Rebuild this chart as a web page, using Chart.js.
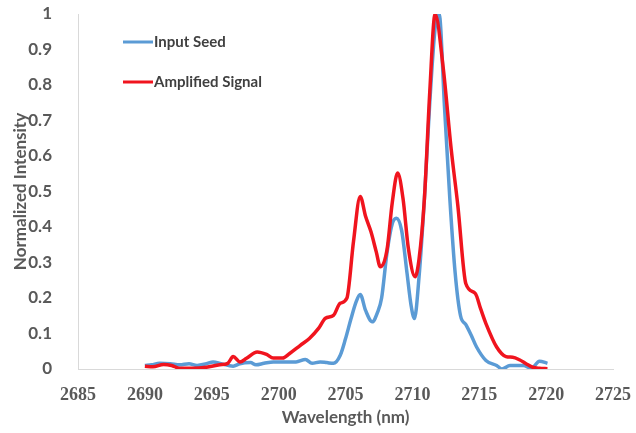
<!DOCTYPE html>
<html>
<head>
<meta charset="utf-8">
<script src="https://cdn.jsdelivr.net/npm/chart.js@4.4.1/dist/chart.umd.min.js"></script>
<style>
  html, body { margin: 0; padding: 0; background: #ffffff; }
  #wrap { width: 636px; height: 433px; position: relative; }
</style>
</head>
<body>
<div id="wrap"><canvas id="c" width="636" height="433"></canvas></div>
<script>
// ---- Data ----
const seedWavelength = [2690.0,2690.5,2691.1,2691.9,2692.6,2693.3,2693.9,2694.6,2695.1,2695.7,2696.6,2697.1,2697.9,2698.3,2698.9,2699.6,2700.6,2701.3,2702.0,2702.5,2703.1,2703.6,2704.1,2704.6,2705.0,2705.4,2705.8,2706.1,2706.5,2707.0,2707.4,2707.7,2708.1,2708.5,2708.8,2709.2,2709.6,2709.9,2710.15,2710.5,2710.9,2711.3,2711.7,2712.0,2712.4,2712.8,2713.2,2713.6,2714.0,2714.4,2714.8,2715.5,2716.3,2716.7,2717.3,2718.3,2718.9,2719.5,2720.1];
const seedIntensity = [0.010,0.012,0.016,0.015,0.012,0.015,0.010,0.015,0.020,0.015,0.008,0.015,0.018,0.012,0.016,0.020,0.020,0.020,0.027,0.016,0.020,0.018,0.016,0.038,0.085,0.140,0.190,0.210,0.165,0.133,0.160,0.200,0.327,0.410,0.425,0.390,0.270,0.180,0.142,0.260,0.480,0.750,0.960,1.000,0.740,0.480,0.270,0.150,0.125,0.095,0.062,0.024,0.010,0.000,0.010,0.010,0.002,0.022,0.016];

const ampWavelength = [2690.0,2690.6,2691.4,2692.0,2692.6,2693.6,2694.6,2695.6,2696.2,2696.6,2697.1,2697.6,2698.4,2699.1,2699.6,2700.3,2700.8,2701.6,2702.3,2703.0,2703.5,2704.1,2704.6,2705.1,2705.6,2706.1,2706.5,2706.9,2707.3,2707.6,2708.1,2708.5,2708.9,2709.3,2709.7,2710.2,2710.5,2710.9,2711.3,2711.7,2712.3,2712.9,2713.4,2714.0,2714.7,2715.1,2715.5,2716.3,2717.0,2717.5,2718.0,2718.5,2719.0,2719.5,2720.1];
const ampIntensity = [0.008,0.006,0.013,0.010,0.002,0.002,0.005,0.012,0.016,0.035,0.020,0.030,0.048,0.041,0.031,0.031,0.043,0.066,0.086,0.115,0.143,0.151,0.185,0.199,0.360,0.486,0.430,0.387,0.330,0.288,0.335,0.470,0.552,0.480,0.340,0.260,0.310,0.480,0.780,1.000,0.850,0.620,0.460,0.240,0.213,0.170,0.128,0.062,0.035,0.033,0.026,0.015,0.005,0.002,0.001];

const seriesLabels = ["Input Seed", "Amplified Signal"];
const xTicks = [2685,2690,2695,2700,2705,2710,2715,2720,2725];
const yTicks = [0,0.1,0.2,0.3,0.4,0.5,0.6,0.7,0.8,0.9,1];

function toPoints(xs, ys) { return xs.map((x, i) => ({ x: x, y: ys[i] })); }

const insideLegend = {
  id: 'insideLegend',
  afterDatasetsDraw(chart, args, opts) {
    const ctx = chart.ctx;
    const ca = chart.chartArea;
    ctx.save();
    ctx.font = opts.font;
    ctx.textBaseline = 'middle';
    ctx.textAlign = 'left';
    chart.data.datasets.forEach((ds, i) => {
      const y = ca.top + opts.offsetY + i * opts.rowGap;
      const x = ca.left + opts.offsetX;
      ctx.strokeStyle = ds.borderColor;
      ctx.lineWidth = 3;
      ctx.beginPath();
      ctx.moveTo(x, y);
      ctx.lineTo(x + opts.lineLen, y);
      ctx.stroke();
      ctx.fillStyle = opts.color;
      ctx.fillText(ds.label, x + opts.lineLen + 1, y);
    });
    ctx.restore();
  }
};

new Chart(document.getElementById('c'), {
  type: 'line',
  data: {
    datasets: [
      {
        label: seriesLabels[0],
        data: toPoints(seedWavelength, seedIntensity),
        borderColor: '#5b9bd5',
        borderWidth: 3.5,
        pointRadius: 0,
        tension: 0.4,
        cubicInterpolationMode: 'monotone',
        fill: false,
        order: 1
      },
      {
        label: seriesLabels[1],
        data: toPoints(ampWavelength, ampIntensity),
        borderColor: '#f0141e',
        borderWidth: 3.5,
        pointRadius: 0,
        tension: 0.4,
        cubicInterpolationMode: 'monotone',
        fill: false,
        order: 0
      }
    ]
  },
  options: {
    responsive: false,
    animation: false,
    events: [],
    layout: { padding: { left: 0, right: 0, top: 0, bottom: 0 } },
    plugins: {
      legend: { display: false },
      tooltip: { enabled: false },
      insideLegend: {
        font: 'bold 15px Lato',
        color: '#404040',
        offsetX: 45,
        offsetY: 28,
        rowGap: 40,
        lineLen: 30
      }
    },
    scales: {
      x: {
        type: 'linear',
        min: 2685,
        max: 2725,
        afterBuildTicks: (axis) => { axis.ticks = xTicks.map(v => ({ value: v })); },
        afterFit: (axis) => {
          axis.height = 64;
          axis.paddingLeft = 0;
          axis.paddingRight = 23;
        },
        grid: { display: false },
        border: { display: true, color: '#d9d9d9', width: 1 },
        ticks: {
          padding: 8,
          color: '#595959',
          font: { family: 'Liberation Serif', size: 18, weight: 'bold' },
          maxRotation: 0,
          autoSkip: false,
          callback: (v) => String(v)
        },
        title: {
          display: true,
          text: 'Wavelength (nm)',
          color: '#595959',
          font: { family: 'Lato', size: 17, weight: 'bold' },
          padding: { top: 4, bottom: 5 }
        }
      },
      y: {
        type: 'linear',
        min: 0,
        max: 1,
        afterBuildTicks: (axis) => { axis.ticks = yTicks.map(v => ({ value: v })); },
        afterFit: (axis) => {
          axis.width = 78;
          axis.paddingTop = 14;
          axis.paddingBottom = 0;
        },
        grid: { display: false },
        border: { display: true, color: '#d9d9d9', width: 1 },
        ticks: {
          padding: 18,
          color: '#595959',
          font: { family: 'Lato', size: 17, weight: 'bold' },
          callback: (v) => String(v)
        },
        title: {
          display: true,
          text: 'Normalized Intensity',
          color: '#595959',
          font: { family: 'Lato', size: 17, weight: 'bold' },
          padding: { top: 10, bottom: 0 }
        }
      }
    }
  },
  plugins: [insideLegend]
});
</script>
</body>
</html>
